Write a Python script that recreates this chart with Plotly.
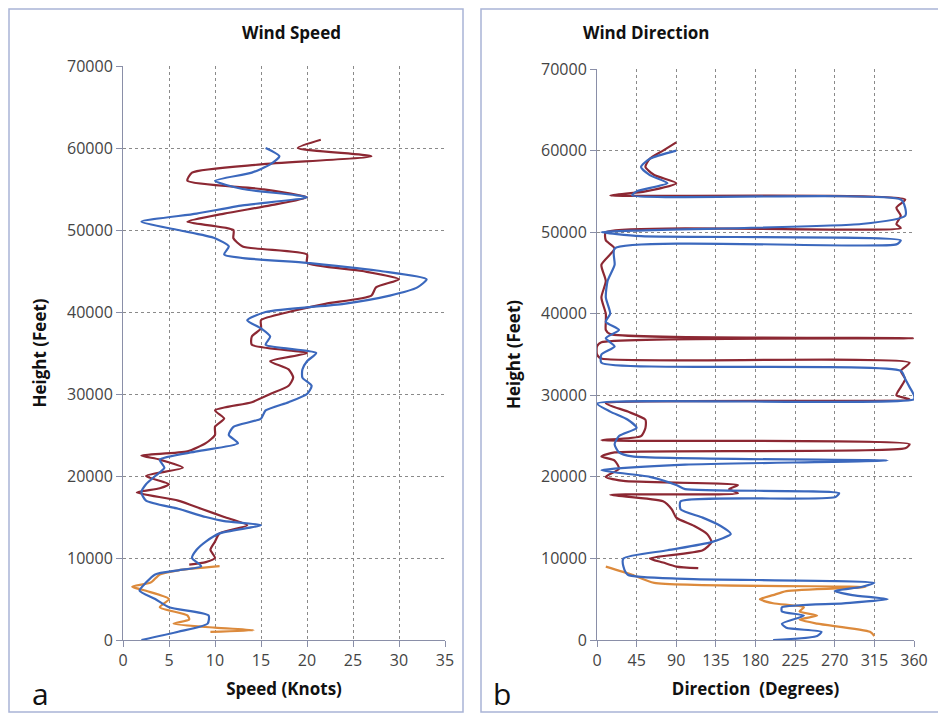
import plotly.graph_objects as go

# Wind speed (knots) vs height (feet)
spd_blue_h = [0,1000,2000,3000,4000,5000,6000,7000,8000,8500,9000,10000,11000,12000,13000,14000,14500,15000,16000,17000,18000,19000,20000,21000,22000,23000,24000,25000,26000,27000,28000,29000,30000,31000,32000,33000,34000,35000,36000,37000,38000,39000,40000,41000,42000,43000,44000,45000,46000,47000,48000,49000,50000,51000,52000,53000,54000,55000,56000,57000,58000,59000,60000]
spd_blue = [2.0,6,9.2,9.3,5,3.5,1.8,2.5,3.5,6,8.5,7.5,8,9,10.5,15,11,9,6,2.5,2,2.5,3.5,4.5,4,8,12.5,11.5,12,15,15.5,18,20,20.5,19.5,19.5,20,21,15.5,16,15,13.5,15.5,24,29,32,33,28,20,11,11.5,10,6,2,8,13,20,13,10,14,16,17,15.5]
spd_red_h = [9200,9500,10000,11000,12000,13000,14000,15000,16000,17000,18000,18500,19000,20000,21000,22000,22500,23000,24000,25000,26000,27000,28000,29000,30000,31000,32000,33000,34000,35000,36000,37000,38000,39000,40000,41000,42000,43000,44000,45000,46000,47000,48000,49000,50000,51000,52000,53000,54000,55000,56000,57000,58000,59000,60000,61000]
spd_red = [7.2,9,10,9.5,10,10.5,13.5,11,8.5,6,1.5,4,5,2.5,6.5,4,2,7,9,10,10,11,10,14,16,18,18.5,18,16,20,14,14,15,15,18,22,27,27.5,30,26,20,20,13,12,12,7,11,16,20,15,7,7.5,15,27,19,21.5]
spd_orange_h = [1000,1200,1500,2000,2500,3000,4000,5000,6000,6500,7000,8000,8500,9000]
spd_orange = [9.5,14.2,10,5.5,7.2,7,4,5,2.5,1,3,4,6,10.5]

# Wind direction (degrees) vs height (feet)
dir_blue_h = [0,500,1000,1500,2000,3000,3500,4000,4500,5000,5500,6000,6500,7000,7500,8000,9000,10000,11000,12000,13000,14000,15000,16000,17000,17500,18000,18500,19000,20000,20800,21000,21500,22000,22500,23000,24000,25000,26000,27000,28000,29000,29500,30000,31000,32000,33000,34000,35000,36000,37000,38000,39000,40000,42000,44000,46000,48000,48500,49000,49500,50000,51000,52000,53000,54000,54500,55000,56000,57000,58000,59000,60000]
dir_blue = [200,250,255,215,210,235,210,210,280,330,290,270,300,315,100,35,30,30,80,130,152,140,120,95,95,270,275,100,90,60,5,20,100,330,40,25,20,25,45,35,15,0,360,360,355,350,345,5,5,20,10,25,10,15,10,12,20,20,340,345,50,5,300,350,350,345,40,45,80,60,50,60,90]
dir_red_h = [8800,9000,9500,10000,11000,12000,13000,14000,15000,16000,17000,17800,18000,18500,19000,19500,20000,21000,22000,22500,23000,23500,24000,24500,25000,26000,27000,28000,29000,29500,30000,31000,32000,33000,34000,34500,35000,36000,36500,37000,37500,38000,39000,40000,42000,44000,46000,48000,49000,50000,50500,51000,52000,53000,54000,54500,55000,56000,57000,58000,59000,60000,61000]
dir_red = [115,90,75,60,120,130,125,110,90,85,75,15,160,150,160,30,10,25,20,5,20,350,355,5,50,55,55,35,10,355,340,345,350,345,355,5,0,0,5,360,15,10,10,10,5,10,5,20,10,10,345,340,345,340,350,15,55,90,65,55,60,75,90]
dir_orange_h = [500,1000,2000,2500,3000,3500,4000,4500,5000,5500,6000,6500,7000,8000,9000]
dir_orange = [315,310,250,230,250,230,235,200,185,200,215,305,65,40,10]

x_ticks_spd = [0,5,10,15,20,25,30,35]
x_ticks_dir = [0,45,90,135,180,225,270,315,360]
y_ticks = [0,10000,20000,30000,40000,50000,60000,70000]

W, H, OFF = 946, 718, 8
def px(x): return (x - OFF) / W
def py(y): return 1 - (y - OFF) / H

BLUE, RED, ORANGE = "#3b68bd", "#8c2833", "#dc8a3c"
fig = go.Figure()
def add(x, y, c, xa, ya):
    fig.add_trace(go.Scatter(x=x, y=y, mode="lines",
                             line=dict(color=c, width=2.2, shape="spline", smoothing=0.6),
                             xaxis=xa, yaxis=ya, showlegend=False))
add(spd_orange, spd_orange_h, ORANGE, "x", "y")
add(spd_red, spd_red_h, RED, "x", "y")
add(spd_blue, spd_blue_h, BLUE, "x", "y")
add(dir_orange, dir_orange_h, ORANGE, "x2", "y2")
add(dir_red, dir_red_h, RED, "x2", "y2")
add(dir_blue, dir_blue_h, BLUE, "x2", "y2")

tickf = dict(family="Open Sans, Arial", size=16, color="#444")
titf = dict(family="Open Sans, Arial", size=17, color="#111")
ax = dict(showgrid=True, gridcolor="#8a8a8a", griddash="dot", gridwidth=1,
          zeroline=False, showline=True, linecolor="#8a8fa8", linewidth=1,
          tickfont=tickf, ticks="outside", ticklen=6, tickcolor="#8a8fa8",
          tickformat="d", mirror=False, automargin=False)
fig.update_layout(
    width=W, height=H, margin=dict(l=0, r=0, t=0, b=0),
    paper_bgcolor="white", plot_bgcolor="white",
    xaxis=dict(ax, domain=[px(123), px(445)], range=[0, 35], tickvals=x_ticks_spd,
               title=dict(text="<b>Speed (Knots)</b>", font=titf, standoff=12), anchor="y"),
    yaxis=dict(ax, domain=[py(640), py(66)], range=[0, 70000], tickvals=y_ticks,
               title=dict(text="<b>Height (Feet)</b>", font=titf, standoff=16), anchor="x"),
    xaxis2=dict(ax, domain=[px(597), px(914)], range=[0, 360], tickvals=x_ticks_dir,
                title=dict(text="<b>Direction  (Degrees)</b>", font=titf, standoff=12), anchor="y2"),
    yaxis2=dict(ax, domain=[py(640), py(69)], range=[0, 70000], tickvals=y_ticks,
                title=dict(text="<b>Height (Feet)</b>", font=titf, standoff=16), anchor="x2"),
)
bc = "#a9b4d6"
fig.add_shape(type="rect", xref="paper", yref="paper", x0=px(9), x1=px(463), y0=py(712), y1=py(9),
              line=dict(color=bc, width=1.5))
fig.add_shape(type="rect", xref="paper", yref="paper", x0=px(481), x1=px(943), y0=py(712), y1=py(9),
              line=dict(color=bc, width=1.5))
for txt, x in [("<b>Wind Speed</b>", 240), ("<b>Wind Direction</b>", 712)]:
    fig.add_annotation(text=txt, x=px(x), y=py(32), xref="paper", yref="paper", yanchor="middle",
                       showarrow=False, font=dict(family="Open Sans, Arial", size=17, color="#111"))
for txt, x in [("a", 30), ("b", 502)]:
    fig.add_annotation(text=txt, x=px(x), y=py(693), xref="paper", yref="paper", yanchor="middle",
                       showarrow=False, font=dict(family="Open Sans, Arial", size=30, color="#111"))
fig.write_html("out.html")
